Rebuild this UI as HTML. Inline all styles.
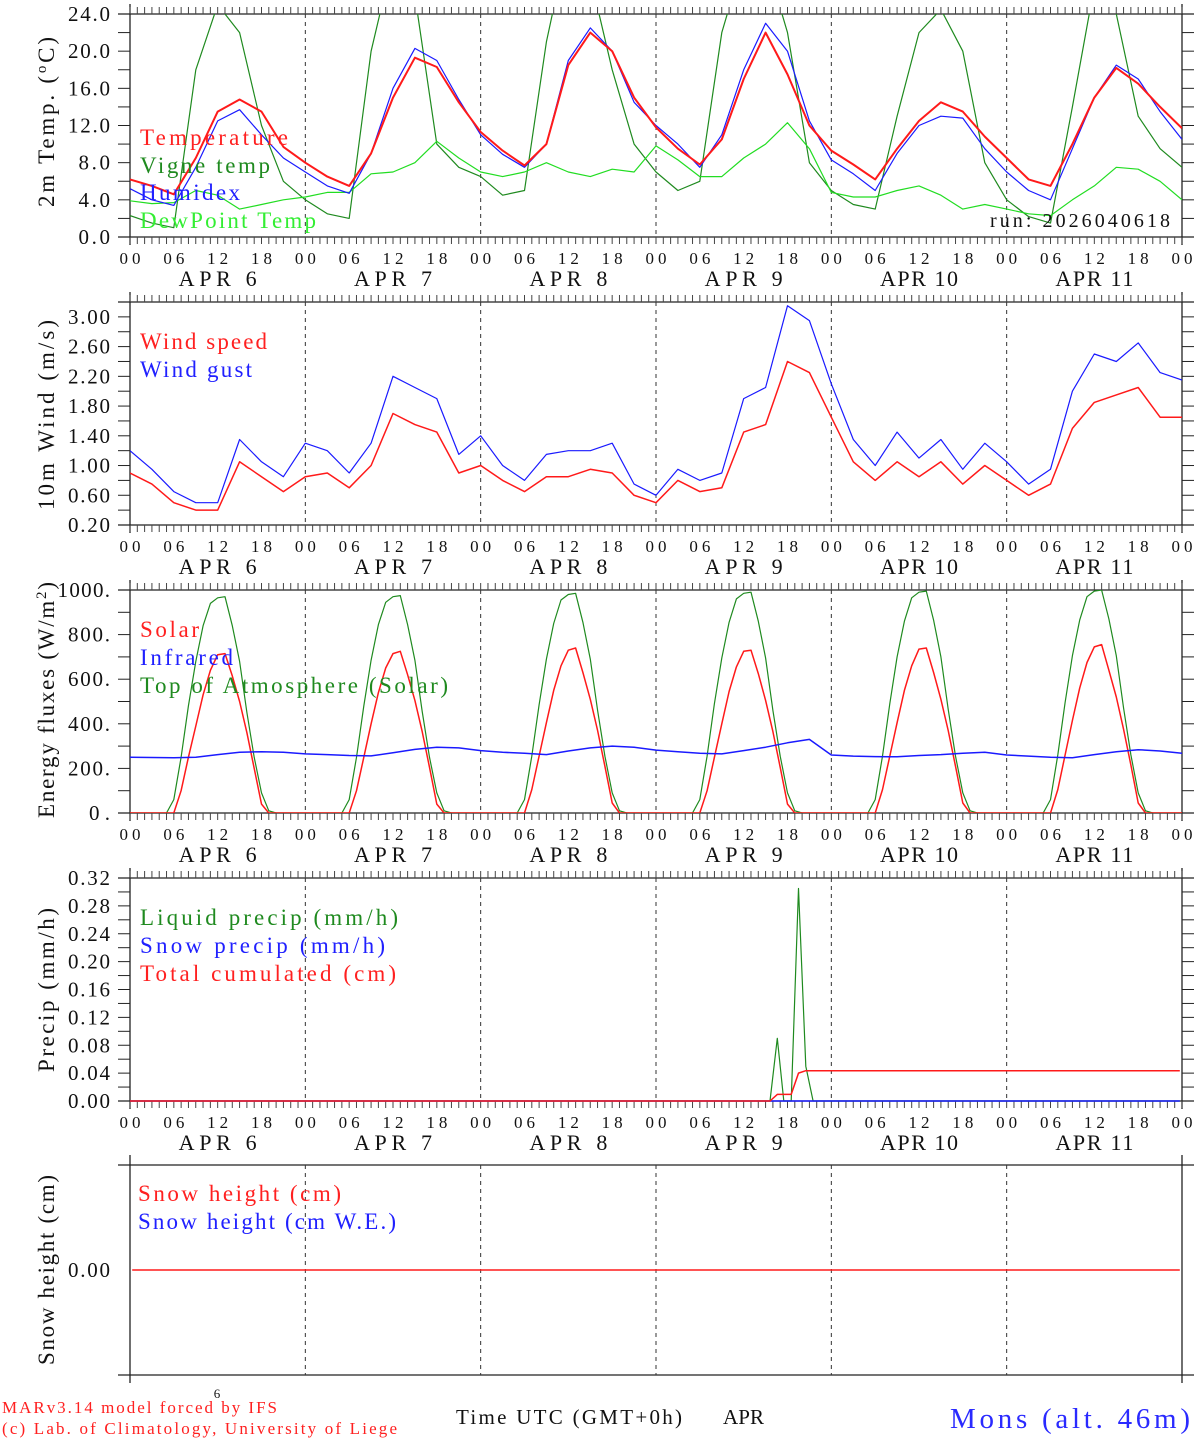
<!DOCTYPE html>
<html><head><meta charset="utf-8"><style>
html,body{margin:0;padding:0;background:#fff;}
svg{display:block;}
text{font-family:"Liberation Serif",serif;}
</style></head>
<body>
<svg id="c" width="1194" height="1440" viewBox="0 0 1194 1440" xmlns="http://www.w3.org/2000/svg"></svg>
<script>
// ---------- DATA ----------
const hours3 = [0,3,6,9,12,15,18,21,24,27,30,33,36,39,42,45,48,51,54,57,60,63,66,69,72,75,78,81,84,87,90,93,96,99,102,105,108,111,114,117,120,123,126,129,132,135,138,141,144];
const dayLabels = ["APR   6","APR   7","APR   8","APR   9","APR  10","APR  11"];
const hourLabels = ["00","06","12","18"];
// Temperature panel
const tempVals = [6.2,5.5,4.6,8.5,13.5,14.8,13.5,9.7,8,6.5,5.5,9,15,19.3,18.3,14.5,11.3,9.3,7.7,10,18.5,22,20,15,11.8,9.5,7.8,10.5,17,22,17.5,12,9.3,7.8,6.2,9.5,12.5,14.5,13.5,10.8,8.5,6.2,5.5,10,15,18.2,16.5,14,11.7];
const humidexVals = [5.2,4,3.4,7.5,12.5,13.7,11,8.5,7,5.5,4.7,9,16,20.3,19,14.8,11,8.9,7.5,10,19,22.5,20,14.5,12,10,7.5,11,18,23,20,12.5,8.3,6.8,5,9,12,13,12.8,9.5,7,5,4,9.5,15,18.5,17,13.5,10.5];
const vigneVals = [2.3,1.5,1,18,25,22,12,6,4,2.5,2,20,30,26,10,7.5,6.5,4.5,5,21,32,28,18,10,7,5,6,22,30,30,22,8,5,3.5,3,13,22,24.5,20,8,4,2.2,1.5,14,27,24,13,9.5,7.5];
const dewVals = [3.9,3.6,3.7,5,4.5,3,3.5,4,4.3,4.8,4.8,6.8,7,8,10.3,8.5,7,6.5,7,8,7,6.5,7.3,7,9.8,8.3,6.5,6.5,8.5,10,12.3,9.5,4.8,4.3,4.3,5,5.5,4.5,3,3.5,3,2.5,2.3,4,5.5,7.5,7.3,6,4];
// Wind panel
const windSpeed = [0.9,0.75,0.5,0.4,0.4,1.05,0.85,0.65,0.85,0.9,0.7,1.0,1.7,1.55,1.45,0.9,1.0,0.8,0.65,0.85,0.85,0.95,0.9,0.6,0.5,0.8,0.65,0.7,1.45,1.55,2.4,2.25,1.65,1.05,0.8,1.05,0.85,1.05,0.75,1.0,0.8,0.6,0.75,1.5,1.85,1.95,2.05,1.65,1.65];
const windGust = [1.2,0.95,0.65,0.5,0.5,1.35,1.05,0.85,1.3,1.2,0.9,1.3,2.2,2.05,1.9,1.15,1.4,1.0,0.8,1.15,1.2,1.2,1.3,0.75,0.6,0.95,0.8,0.9,1.9,2.05,3.15,2.95,2.1,1.35,1.0,1.45,1.1,1.35,0.95,1.3,1.05,0.75,0.95,2.0,2.5,2.4,2.65,2.25,2.15];
// Energy panel (hourly)
const solarVals = [
0,0,0,0,0,0,0,100,250,390,530,640,710,715,615,500,360,200,40,0,0,0,0,0,
0,0,0,0,0,0,0,100,250,400,540,650,715,725,620,505,365,205,40,0,0,0,0,0,
0,0,0,0,0,0,0,105,255,405,550,660,730,740,630,510,370,210,45,0,0,0,0,0,
0,0,0,0,0,0,0,100,250,400,545,655,725,730,625,505,365,205,40,0,0,0,0,0,
0,0,0,0,0,0,0,105,255,405,550,660,735,740,630,510,370,210,45,0,0,0,0,0,
0,0,0,0,0,0,0,105,260,415,560,675,745,755,640,520,375,215,45,0,0,0,0,0,0];
const toaVals = [
0,0,0,0,0,0,60,250,480,680,840,940,965,970,840,680,450,250,90,10,0,0,0,0,
0,0,0,0,0,0,60,250,480,685,845,945,970,975,845,685,455,250,90,10,0,0,0,0,
0,0,0,0,0,0,60,255,485,690,850,955,980,985,855,690,460,255,90,10,0,0,0,0,
0,0,0,0,0,0,60,255,490,695,855,960,985,990,860,695,460,255,90,10,0,0,0,0,
0,0,0,0,0,0,60,255,490,700,860,965,990,995,865,700,465,255,90,10,0,0,0,0,
0,0,0,0,0,0,60,260,495,705,865,970,995,1000,870,705,470,260,90,10,0,0,0,0,0];
const irVals = [250,249,248,250,262,272,275,272,265,262,258,256,270,285,295,292,280,272,268,262,278,292,300,295,282,275,268,265,280,295,315,330,260,255,253,252,258,262,268,272,260,255,250,248,262,275,284,278,268];
// Precip panel
const precipHours = [0,87.6,88.6,89.5,90.5,91.5,92.5,93.5,143.7];
const liquidVals = [0,0,0.09,0,0,0.305,0.05,0,0];
const cumulVals = [0,0,0.0095,0.0095,0.0095,0.04,0.0435,0.0435,0.0435];
const snowPrecipVals = [0,0,0,0,0,0,0,0,0];
// Snow panel
const snowHours = [0.3,143.7];
const snowVals = [0,0];

// ---------- DRAWING ----------
const svg = document.getElementById('c');
const NS = 'http://www.w3.org/2000/svg';
const X0 = 130, X1 = 1182;
function xs(h){ return X0 + h*(X1-X0)/144; }
function mk(tag, attrs, parent){
  const e = document.createElementNS(NS, tag);
  for (const k in attrs) e.setAttribute(k, attrs[k]);
  (parent||svg).appendChild(e);
  return e;
}
function txt(x,y,s,size,fill,anchor,len,name,parent){
  const e = mk('text',{x:x,y:y,'font-size':size,fill:fill,'text-anchor':anchor||'start'},parent);
  if (len){ e.setAttribute('textLength',len); e.setAttribute('lengthAdjust','spacing'); }
  e.textContent = s;
  
  
  return e;
}
function series(hrs, vals, ys, color, w, name, clip){
  const pts = hrs.map((h,i)=> xs(h).toFixed(1)+','+ys(vals[i]).toFixed(1)).join(' ');
  const p = mk('polyline',{points:pts,fill:'none',stroke:color,'stroke-width':w,'stroke-linejoin':'round'});
  if (clip) p.setAttribute('clip-path','url(#'+clip+')');
  
  
  return p;
}
const defs = mk('defs',{});

function panel(opt){
  const g = mk('g',{});
  
  
  const top = opt.top, bot = opt.bot;
  const ys = v => bot - (v-opt.min)/(opt.max-opt.min)*(bot-top);
  const cp = mk('clipPath',{id:opt.name+'-clip'},defs);
  mk('rect',{x:X0,y:top,width:X1-X0,height:bot-top},cp);
  mk('line',{x1:X0,y1:top-10,x2:X0,y2:bot+8,stroke:'#222','stroke-width':1.3},g);
  mk('line',{x1:X1,y1:top-10,x2:X1,y2:bot+8,stroke:'#222','stroke-width':1.3},g);
  mk('line',{x1:118,y1:top,x2:1194,y2:top,stroke:'#222','stroke-width':1.2},g);
  mk('line',{x1:118,y1:bot,x2:1194,y2:bot,stroke:'#222','stroke-width':1.2},g);
  for (let d=1; d<6; d++){
    mk('line',{x1:xs(d*24),y1:top,x2:xs(d*24),y2:bot,stroke:'#333','stroke-width':1,'stroke-dasharray':'4,4'},g);
  }
  if (opt.hourTicks){
    for (let h=0; h<=144; h++){
      mk('line',{x1:xs(h),y1:top-7,x2:xs(h),y2:top,stroke:'#444','stroke-width':1},g);
      mk('line',{x1:xs(h),y1:bot,x2:xs(h),y2:bot+7,stroke:'#444','stroke-width':1},g);
    }
  }
  for (let v=opt.min; v<=opt.max+1e-9; v+=opt.minor){
    const y = ys(v);
    mk('line',{x1:118,y1:y,x2:X0,y2:y,stroke:'#222','stroke-width':1},g);
    mk('line',{x1:X1,y1:y,x2:1194,y2:y,stroke:'#222','stroke-width':1},g);
  }
  opt.labels.forEach((s,i)=>{
    txt(110, ys(opt.labelVals[i])+7, s, 21, '#111', 'end', s.length*10.5, 'y-tick-label', g);
  });
  if (opt.hourTicks){
    for (let d=0; d<=6; d++){
      for (let k=0; k<4; k++){
        if (d==6 && k>0) break;
        txt(xs(d*24+k*6), bot+27, hourLabels[k], 17, '#111', 'middle', 21, 'x-hour-label', g);
      }
    }
    dayLabels.forEach((s,d)=>{
      txt(xs(d*24+12), bot+49, s, 22, '#111', 'middle', 78, 'x-day-label', g);
    });
  }
  const ty = mk('text',{x:0,y:0,'font-size':23,fill:'#111','text-anchor':'middle',transform:'translate(54,'+opt.titleY+') rotate(-90)'},g);
  ty.setAttribute('textLength',opt.titleLen); ty.setAttribute('lengthAdjust','spacing');
  
  
  ty.innerHTML = opt.title;
  return {ys:ys, g:g, clip:opt.name+'-clip'};
}

const p1 = panel({name:'temperature-panel',top:14,bot:237,min:0,max:24,minor:2,
  labels:['0.0','4.0','8.0','12.0','16.0','20.0','24.0'],labelVals:[0,4,8,12,16,20,24],
  hourTicks:true,title:'2m Temp. (<tspan baseline-shift="super" font-size="15">o</tspan>C)',titleY:122,titleLen:170});
series(hours3, vigneVals, p1.ys, '#1f8a1f', 1.2, 'vigne-temp-line', p1.clip);
series(hours3, dewVals, p1.ys, '#22dd22', 1.2, 'dewpoint-line', p1.clip);
series(hours3, humidexVals, p1.ys, '#1a1aff', 1.2, 'humidex-line', p1.clip);
series(hours3, tempVals, p1.ys, '#ff1a1a', 2, 'temperature-line', p1.clip);
txt(140,145,'Temperature',23,'#ff2020','start',148,'legend-temperature');
txt(140,173,'Vigne temp',23,'#1f8a1f','start',130,'legend-vigne-temp');
txt(140,200,'Humidex',23,'#2020ff','start',100,'legend-humidex');
txt(140,228,'DewPoint Temp',23,'#33ee33','start',176,'legend-dewpoint');
txt(1170,227,'run: 2026040618',20,'#111','end',180,'run-label');

const p2 = panel({name:'wind-panel',top:302,bot:525,min:0.2,max:3.2,minor:0.2,
  labels:['0.20','0.60','1.00','1.40','1.80','2.20','2.60','3.00'],labelVals:[0.2,0.6,1.0,1.4,1.8,2.2,2.6,3.0],
  hourTicks:true,title:'10m Wind (m/s)',titleY:415,titleLen:190});
series(hours3, windGust, p2.ys, '#1a1aff', 1.2, 'wind-gust-line', p2.clip);
series(hours3, windSpeed, p2.ys, '#ff1a1a', 1.5, 'wind-speed-line', p2.clip);
txt(140,349,'Wind speed',23,'#ff2020','start',127,'legend-wind-speed');
txt(140,377,'Wind gust',23,'#2020ff','start',112,'legend-wind-gust');

const hours1 = []; for (let h=0; h<=144; h++) hours1.push(h);
const p3 = panel({name:'energy-panel',top:590,bot:813,min:0,max:1000,minor:100,
  labels:['0.','200.','400.','600.','800.','1000.'],labelVals:[0,200,400,600,800,1000],
  hourTicks:true,title:'Energy fluxes (W/m<tspan baseline-shift="super" font-size="15">2</tspan>)',titleY:700,titleLen:236});
series(hours1, toaVals, p3.ys, '#1f8a1f', 1.2, 'toa-solar-line', p3.clip);
series(hours1, solarVals, p3.ys, '#ff1a1a', 1.5, 'solar-line', p3.clip);
series(hours3, irVals, p3.ys, '#1a1aff', 1.5, 'infrared-line', p3.clip);
txt(140,637,'Solar',23,'#ff2020','start',59,'legend-solar');
txt(140,665,'Infrared',23,'#2020ff','start',93,'legend-infrared');
txt(140,693,'Top of Atmosphere (Solar)',23,'#1f8a1f','start',308,'legend-toa');

const p4 = panel({name:'precip-panel',top:878,bot:1101,min:0,max:0.32,minor:0.02,
  labels:['0.00','0.04','0.08','0.12','0.16','0.20','0.24','0.28','0.32'],labelVals:[0,0.04,0.08,0.12,0.16,0.2,0.24,0.28,0.32],
  hourTicks:true,title:'Precip (mm/h)',titleY:990,titleLen:164});
series(precipHours, liquidVals, p4.ys, '#1f8a1f', 1.2, 'liquid-precip-line');
series(precipHours, snowPrecipVals, p4.ys, '#1a1aff', 1.5, 'snow-precip-line');
series(precipHours, cumulVals, p4.ys, '#ff1a1a', 1.5, 'cumulated-precip-line');
txt(140,925,'Liquid precip (mm/h)',23,'#1f8a1f','start',258,'legend-liquid-precip');
txt(140,953,'Snow precip (mm/h)',23,'#2020ff','start',245,'legend-snow-precip');
txt(140,981,'Total cumulated (cm)',23,'#ff2020','start',256,'legend-cumulated');

const p5 = panel({name:'snow-panel',top:1165,bot:1375,min:-1,max:1,minor:2,
  labels:['0.00'],labelVals:[0],hourTicks:false,title:'Snow height (cm)',titleY:1270,titleLen:190});
series(snowHours, snowVals, p5.ys, '#ff1a1a', 1.5, 'snow-height-line');
txt(138,1201,'Snow height (cm)',23,'#ff2020','start',203,'legend-snow-height');
txt(138,1229,'Snow height (cm W.E.)',23,'#2020ff','start',258,'legend-snow-we');

txt(217,1398,'6',13,'#111','middle',null,'footer-day-mark');
txt(2,1413,'MARv3.14 model forced by IFS',17,'#ff2020','start',275,'footer-model');
txt(2,1434,'(c) Lab. of Climatology, University of Liege',17,'#ff2020','start',395,'footer-credit');
txt(456,1424,'Time UTC (GMT+0h)',21,'#111','start',226,'x-axis-title');
txt(723,1424,'APR',21,'#111','start',41,'x-axis-month');
txt(1190,1428,'Mons (alt. 46m)',29,'#2a2aff','end',240,'station-title');
</script>
</body></html>
